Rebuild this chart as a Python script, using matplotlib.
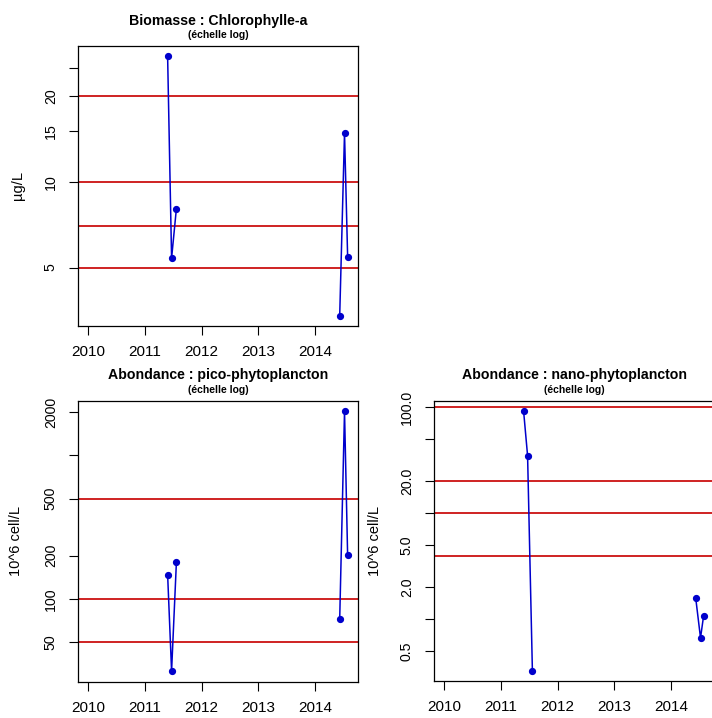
import numpy as np
import matplotlib
matplotlib.use("Agg")
import matplotlib.pyplot as plt
from matplotlib.ticker import FixedLocator, FixedFormatter, NullLocator

plt.rcParams['font.family'] = ['Liberation Sans', 'DejaVu Sans']

# Sampling dates (decimal years); NaN breaks the line between campaigns
dates = [2011.40, 2011.47, 2011.555, np.nan, 2014.44, 2014.525, 2014.58]

chla = [27.5, 5.39, 8.04, np.nan, 3.39, 14.8, 5.46]           # µg/L
pico = [148.0, 31.4, 180.0, np.nan, 72.4, 2030.0, 201.0]       # 10^6 cell/L
nano = [91.7, 35.0, 0.328, np.nan, 1.59, 0.668, 1.084]         # 10^6 cell/L

# Reference thresholds (horizontal lines)
chla_thresholds = [5, 7, 10, 20]
pico_thresholds = [50, 100, 500]
nano_thresholds = [4, 10, 20, 100]

# Axis ticks and their labels ('' = tick without label)
year_ticks = [2010, 2011, 2012, 2013, 2014]
chla_ticks = [5, 10, 15, 20, 25]
chla_labels = ['5', '10', '15', '20', '']
pico_ticks = [50, 100, 200, 500, 1000, 2000]
pico_labels = ['50', '100', '200', '500', '', '2000']
nano_ticks = [0.5, 1, 2, 5, 10, 20, 50, 100]
nano_labels = ['0.5', '', '2.0', '5.0', '', '20.0', '', '100.0']

titles = ["Biomasse : Chlorophylle-a",
          "Abondance : pico-phytoplancton",
          "Abondance : nano-phytoplancton"]
subtitle = "(échelle log)"
ylabels = ["µg/L", "10^6 cell/L", "10^6 cell/L"]

W, H = 712, 718
fig = plt.figure(figsize=(W / 100, H / 100), dpi=100)
fig.patch.set_facecolor('white')

BLUE = '#0000CC'
RED = '#CC1111'


def rect(x0, y0, x1, y1):
    return [x0 / W, 1 - y1 / H, (x1 - x0) / W, (y1 - y0) / H]


def panel(r, y, thresholds, ticks, labels, title, ylabel, ylabel_x):
    ax = fig.add_axes(rect(*r))
    ax.set_yscale('log')
    for t in thresholds:
        ax.axhline(t, color=RED, lw=1.3, zorder=1)
    ax.plot(dates, y, color=BLUE, lw=1.1, marker='o', ms=4.2,
            mec=BLUE, mfc=BLUE, zorder=3)

    # x range: 2010 to last date, padded by 4 %
    xmin = year_ticks[0]
    xmax = np.nanmax(dates)
    dx = 0.04 * (xmax - xmin)
    ax.set_xlim(xmin - dx, xmax + dx)

    # log y range padded by 4 % of the decades spanned
    ly = np.log10(np.array([v for v in y if not np.isnan(v)]))
    dy = 0.04 * (ly.max() - ly.min())
    ax.set_ylim(10 ** (ly.min() - dy), 10 ** (ly.max() + dy))

    ax.xaxis.set_major_locator(FixedLocator(year_ticks))
    ax.set_xticklabels([str(t) for t in year_ticks])
    ax.yaxis.set_major_locator(FixedLocator(ticks))
    ax.yaxis.set_major_formatter(FixedFormatter(labels))
    ax.yaxis.set_minor_locator(NullLocator())

    ax.tick_params(axis='x', length=6.5, width=0.8, pad=7.5, labelsize=11)
    ax.tick_params(axis='y', length=6.5, width=0.8, pad=8.0, labelsize=10.2)
    for lab in ax.get_yticklabels():
        lab.set_rotation(90)
        lab.set_va('center')
    for s in ax.spines.values():
        s.set_linewidth(0.9)
        s.set_color('black')

    cx = (r[0] + r[2]) / 2
    top = r[1]
    fig.text(cx / W, 1 - (top - 25.5) / H, title, ha='center', va='center',
             fontsize=10.2, fontweight='bold')
    fig.text(cx / W, 1 - (top - 11) / H, subtitle, ha='center', va='center',
             fontsize=7.5, fontweight='bold')
    fig.text(ylabel_x / W, 1 - ((r[1] + r[3]) / 2) / H, ylabel,
             rotation=90, ha='center', va='center', fontsize=10.5)
    return ax


panel((78, 46, 358, 326), chla, chla_thresholds, chla_ticks, chla_labels,
      titles[0], ylabels[0], 18)
panel((78, 401, 358, 681.5), pico, pico_thresholds, pico_ticks, pico_labels,
      titles[1], ylabels[1], 16)
panel((434, 401, 714, 681), nano, nano_thresholds, nano_ticks, nano_labels,
      titles[2], ylabels[2], 375)

fig.savefig('out.png', dpi=100)
